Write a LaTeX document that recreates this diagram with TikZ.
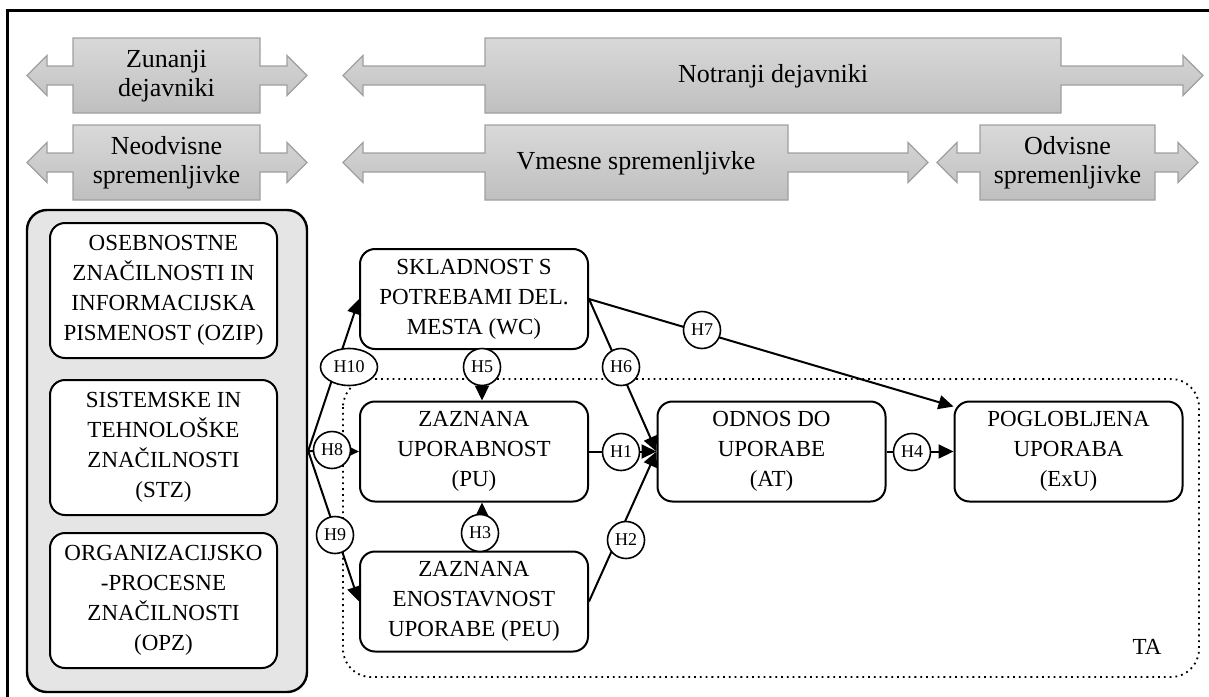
\documentclass[tikz,border=0pt]{standalone}
\usepackage{fontspec}
\setmainfont{Liberation Serif}
\usetikzlibrary{arrows.meta, shapes.geometric}

\tikzset{
  hdr/.style={draw=gray!75, line width=0.6pt, top color=gray!30, bottom color=gray!50},
  hdrtext/.style={align=center, font=\fontsize{13}{14.5}\selectfont},
  box/.style={draw, line width=1pt, rounded corners=7.5pt, fill=white, align=center,
    inner sep=0pt, minimum width=114pt, minimum height=50pt, font=\fontsize{11.5}{15}\selectfont},
  srcbox/.style={box, minimum width=113.5pt, minimum height=67.5pt},
  panel/.style={draw, line width=1.2pt, fill=gray!20, rounded corners=10pt,
    minimum width=140pt, minimum height=241pt},
  hyp/.style={draw, ellipse, fill=white, line width=0.8pt, inner sep=0pt,
    minimum width=18.5pt, minimum height=18.5pt, font=\fontsize{9}{10}\selectfont},
  conn/.style={line width=1pt, -{Triangle[length=7.5pt, width=7pt]}},
}

% double headed banner: centre y, left tip, box left, box right, right tip
\newcommand{\hdrarrow}[5]{%
  \path[hdr] (#2,#1) -- (#2+20,#1-20) -- (#2+20,#1-9.5) -- (#3,#1-9.5) -- (#3,#1-37.5)
    -- (#4,#1-37.5) -- (#4,#1-9.5) -- (#5-20,#1-9.5) -- (#5-20,#1-20) -- (#5,#1)
    -- (#5-20,#1+20) -- (#5-20,#1+9.5) -- (#4,#1+9.5) -- (#4,#1+37.5) -- (#3,#1+37.5)
    -- (#3,#1+9.5) -- (#2+20,#1+9.5) -- (#2+20,#1+20) -- cycle;}

\begin{document}
\begin{tikzpicture}[x=0.5pt, y=-0.5pt]
    \useasboundingbox (0,0) rectangle (1209,696);
    \clip (0,0) rectangle (1209,696);

    % Frame
    \draw[line width=1.5pt] (7,720) -- (7,10) -- (1230,10);

    % Banners
    \hdrarrow{75.5}{27}{73}{260}{307}
    \hdrarrow{75.5}{343}{485}{1061}{1203}
    \hdrarrow{162.5}{27}{73}{260}{307}
    \hdrarrow{162.5}{343}{485}{788}{928}
    \hdrarrow{162.5}{937}{980}{1155}{1198}

    \node[hdrtext] (zun) at (166.5,76) {Zunanji\\dejavniki};
    \node[hdrtext] (notr) at (773,76) {Notranji dejavniki};
    \node[hdrtext] (neodv) at (166.5,163) {Neodvisne\\spremenljivke};
    \node[hdrtext] (vmes) at (636,163) {Vmesne spremenljivke};
    \node[hdrtext] (odv) at (1067.5,163) {Odvisne\\spremenljivke};

    % TA region
    \draw[dotted, line width=0.9pt, rounded corners=14pt] (343,379) rectangle (1199,677);
    \node[font=\fontsize{11.5}{13}\selectfont] (ta) at (1147,647) {TA};

    % Independent variables
    \node[panel] (src) at (167,451) {};
    \node[srcbox] (ozip) at (163.5,290.5) {OSEBNOSTNE\\ZNAČILNOSTI IN\\INFORMACIJSKA\\PISMENOST (OZIP)};
    \node[srcbox] (stz) at (163.5,447.5) {SISTEMSKE IN\\TEHNOLOŠKE\\ZNAČILNOSTI\\(STZ)};
    \node[srcbox] (opz) at (163.5,600.5) {ORGANIZACIJSKO\\-PROCESNE\\ZNAČILNOSTI\\(OPZ)};

    % Model constructs
    \node[box] (wc) at (474,299) {SKLADNOST S\\POTREBAMI DEL.\\MESTA (WC)};
    \node[box] (pu) at (474,451.5) {ZAZNANA\\UPORABNOST\\(PU)};
    \node[box] (peu) at (474,601.5) {ZAZNANA\\ENOSTAVNOST\\UPORABE (PEU)};
    \node[box] (at) at (771.5,451.5) {ODNOS DO\\UPORABE\\(AT)};
    \node[box] (exu) at (1068.5,451.5) {POGLOBLJENA\\UPORABA\\(ExU)};

    % Paths
    \coordinate (jn) at (src.east);
    \draw[conn] (jn) -- (wc.west);
    \draw[conn] (jn) -- (pu.west);
    \draw[conn] (jn) -- (peu.west);
    \draw[conn] ([xshift=4pt]wc.south) -- ([xshift=4pt]pu.north);
    \draw[conn] ([xshift=4pt]peu.north) -- ([xshift=4pt]pu.south);
    \draw[conn] (wc.east) -- (at.west);
    \draw[conn] (wc.east) -- ([yshift=-3pt]exu.north west);
    \draw[conn] (pu.east) -- (at.west);
    \draw[conn] (peu.east) -- (at.west);
    \draw[conn] (at.east) -- (exu.west);

    % Hypotheses
    \node[hyp] (h1) at (621,452) {H1};
    \node[hyp] (h2) at (626,540) {H2};
    \node[hyp] (h3) at (480,533) {H3};
    \node[hyp] (h4) at (912,452) {H4};
    \node[hyp] (h5) at (482,367) {H5};
    \node[hyp] (h6) at (621,367) {H6};
    \node[hyp] (h7) at (702,330) {H7};
    \node[hyp] (h8) at (332,450) {H8};
    \node[hyp] (h9) at (335,535) {H9};
    \node[hyp, minimum width=28.5pt] (h10) at (349,367) {H10};
\end{tikzpicture}
\end{document}
